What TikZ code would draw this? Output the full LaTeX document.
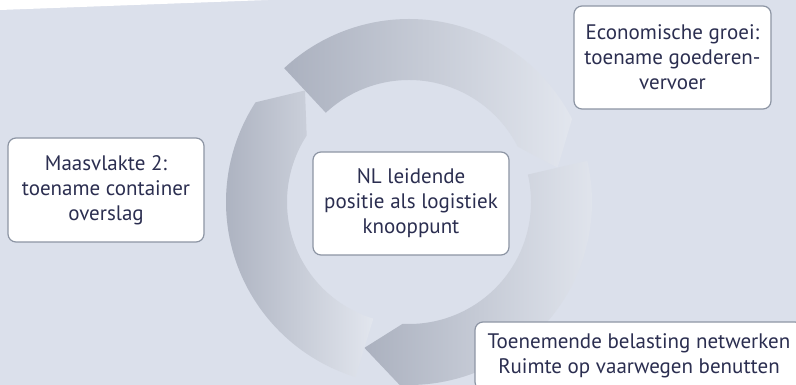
\documentclass[tikz,border=0pt]{standalone}
\usepackage{fontspec}
\setmainfont{PT Sans}
\definecolor{bgblue}{HTML}{DBE0EB}
\definecolor{arrowdark}{HTML}{ABB1BF}
\definecolor{arrowlight}{HTML}{E2E6EE}
\definecolor{boxline}{HTML}{8D95A4}
\definecolor{textnavy}{HTML}{2B2E50}

\begin{document}
\begin{tikzpicture}[x=0.75pt,y=0.75pt,
    box/.style={draw=boxline,line width=0.9pt,fill=white,rounded corners=6pt,align=center,text=textnavy,inner sep=0pt,font=\fontsize{15.75pt}{18.75pt}\selectfont}]
    \useasboundingbox(0,0)rectangle(796,385);
    \clip(0,0)rectangle(796,385);
    \fill[bgblue](0,0)rectangle(796,385);
    \fill[white](0,385)--(268,385)--(0,375)--cycle;

    \begin{scope}[shift={(409,183)}]
        \foreach \t in {133,13,253}{
            \shade[left color=arrowdark,right color=arrowlight]
                (\t:183)arc[start angle=\t,end angle=\t-106,radius=183]
                --(\t-120:152.5)--(\t-106:122)
                arc[start angle=\t-106,end angle=\t,radius=122]--cycle;
        }
    \end{scope}

    \node[box,minimum width=147.75pt,minimum height=77.25pt](groei)at(672.5,327.5){Economische groei:\\toename goederen-\\vervoer};
    \node[box,minimum width=147pt,minimum height=78pt](maas)at(106,195){Maasvlakte 2:\\toename container\\overslag};
    \node[box,minimum width=147pt,minimum height=77.25pt](knoop)at(411,181.5){NL leidende\\positie als logistiek\\knooppunt};
    \node[box,minimum width=246pt,minimum height=51pt](belast)at(639,29){Toenemende belasting netwerken\\Ruimte op vaarwegen benutten};
\end{tikzpicture}
\end{document}
